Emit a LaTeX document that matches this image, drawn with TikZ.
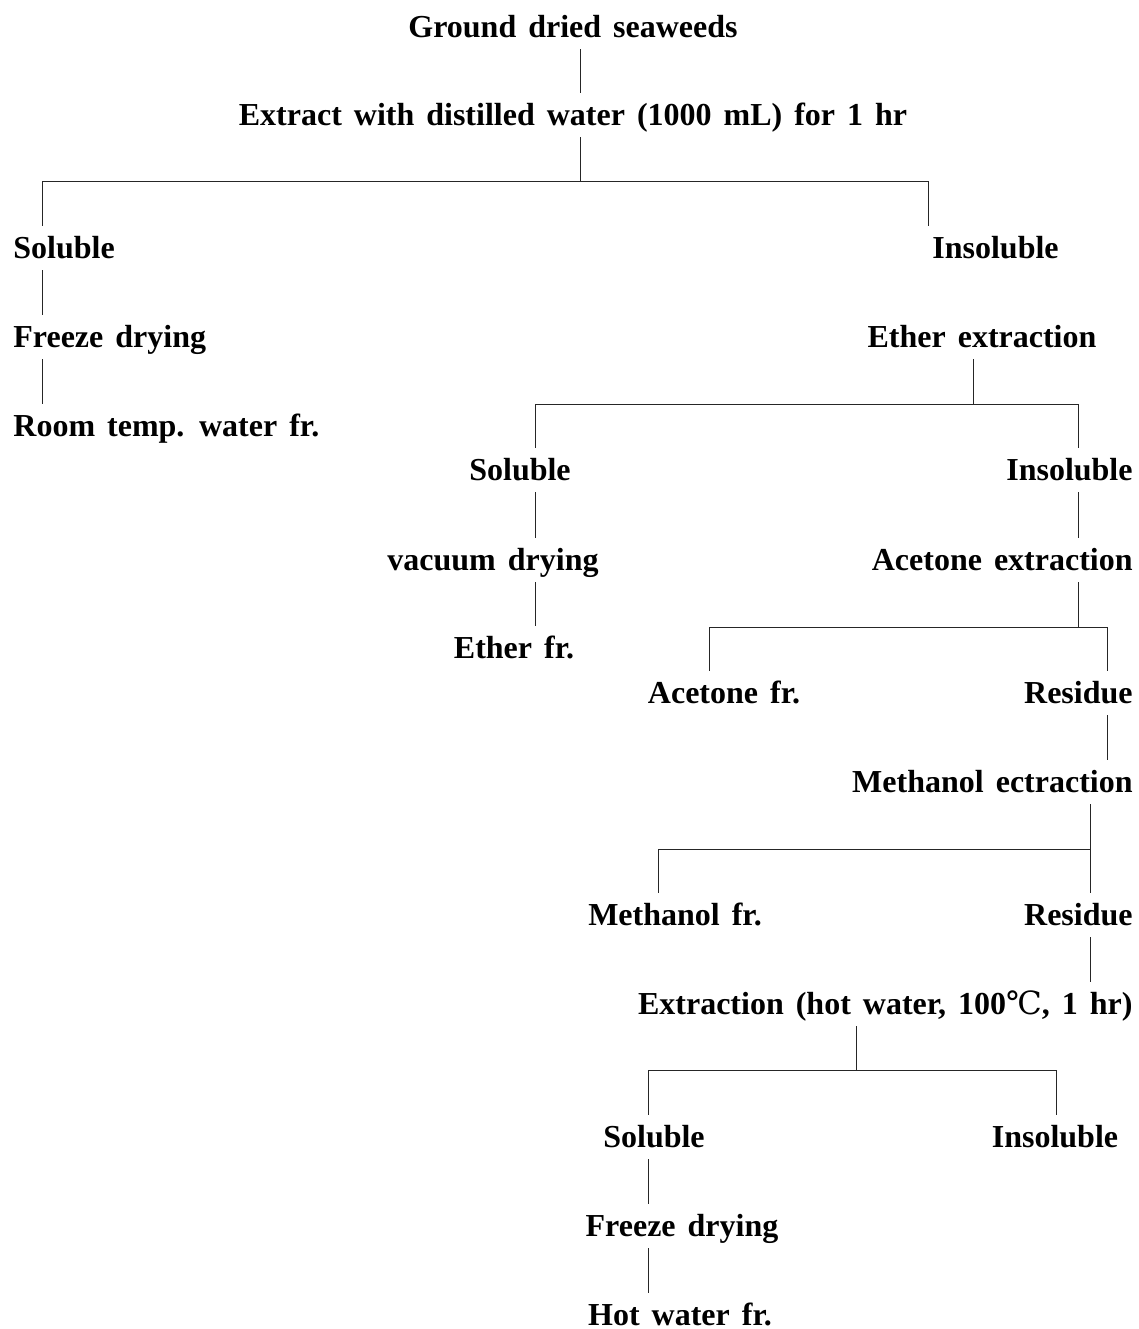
\documentclass[tikz,border=0pt]{standalone}
\usepackage{fontspec}
\newfontfamily\flowfont[WordSpace=1.5]{Liberation Serif Bold}
\newfontfamily\degfont{DejaVu Serif}
\usetikzlibrary{positioning,calc}

\begin{document}
\begin{tikzpicture}[x=0.5pt, y=-0.5pt,
		stage/.style={font=\fontsize{16pt}{19pt}\selectfont\flowfont, text height=10.5pt, text depth=0.5pt, inner xsep=0pt, inner ysep=5.5pt},
		link/.style={line width=0.5pt, draw=black!85}]
			\useasboundingbox (0,0) rectangle (1139,1329);
			\node [stage, anchor=base] (gds) at (573,37) {Ground dried seaweeds};
			\node [stage, anchor=base] (water) at (573,125) {Extract with distilled water (1000 mL) for 1 hr};
			\node [stage, anchor=base west] (sol1) at (13,258) {Soluble};
			\node [stage, anchor=base west] (frz1) at (13,347) {Freeze drying};
			\node [stage, anchor=base west] (room) at (13,436) {Room temp. water fr.};
			\node [stage, anchor=base west] (ins1) at (932,258) {Insoluble};
			\node [stage, anchor=base] (ether) at (982,347) {Ether extraction};
			\node [stage, anchor=base] (sol2) at (520,480) {Soluble};
			\node [stage, anchor=base east] (ins2) at (1133,480) {Insoluble};
			\node [stage, anchor=base] (vac) at (493,570) {vacuum drying};
			\node [stage, anchor=base east] (acet) at (1133,570) {Acetone extraction};
			\node [stage, anchor=base] (etherfr) at (514,658) {Ether fr.};
			\node [stage, anchor=base] (acetfr) at (724,703) {Acetone fr.};
			\node [stage, anchor=base east] (res1) at (1133,703) {Residue};
			\node [stage, anchor=base east] (meth) at (1133,792) {Methanol ectraction};
			\node [stage, anchor=base] (methfr) at (675,925) {Methanol fr.};
			\node [stage, anchor=base east] (res2) at (1133,925) {Residue};
			\node [stage, anchor=base east] (hot) at (1133,1014) {Extraction (hot water, 100{\degfont ℃}, 1 hr)};
			\node [stage, anchor=base] (sol3) at (654,1147) {Soluble};
			\node [stage, anchor=base] (ins3) at (1055,1147) {Insoluble};
			\node [stage, anchor=base] (frz3) at (682,1236) {Freeze drying};
			\node [stage, anchor=base] (hotfr) at (680,1325) {Hot water fr.};

			\coordinate (j1) at (580,181);
			\coordinate (j1l) at (42,181);
			\coordinate (j1r) at (928,181);
			\draw [link] (gds.south -| j1) -- (water.north -| j1);
			\draw [link] (water.south -| j1) -- (j1);
			\draw [link] (sol1.north -| j1l) -- (j1l) -- (j1r) -- (ins1.north -| j1r);
			\draw [link] (sol1.south -| j1l) -- (frz1.north -| j1l);
			\draw [link] (frz1.south -| j1l) -- (room.north -| j1l);

			\coordinate (j2) at (973,404);
			\coordinate (j2l) at (535,404);
			\coordinate (j2r) at (1078,404);
			\draw [link] (ether.south -| j2) -- (j2);
			\draw [link] (sol2.north -| j2l) -- (j2l) -- (j2r) -- (ins2.north -| j2r);
			\draw [link] (sol2.south -| j2l) -- (vac.north -| j2l);
			\draw [link] (vac.south -| j2l) -- (etherfr.north -| j2l);
			\draw [link] (ins2.south -| j2r) -- (acet.north -| j2r);

			\coordinate (j3) at (1078,627);
			\coordinate (j3l) at (709,627);
			\coordinate (j3r) at (1107,627);
			\draw [link] (acet.south -| j3) -- (j3);
			\draw [link] (acetfr.north -| j3l) -- (j3l) -- (j3r) -- (res1.north -| j3r);
			\draw [link] (res1.south -| j3r) -- (meth.north -| j3r);

			\coordinate (j4) at (1090,849);
			\coordinate (j4l) at (658,849);
			\draw [link] (meth.south -| j4) -- (j4);
			\draw [link] (methfr.north -| j4l) -- (j4l) -- (j4) -- (res2.north -| j4);
			\draw [link] (res2.south -| j4) -- (hot.north -| j4);

			\coordinate (j5) at (856,1070);
			\coordinate (j5l) at (648,1070);
			\coordinate (j5r) at (1056,1070);
			\draw [link] (hot.south -| j5) -- (j5);
			\draw [link] (sol3.north -| j5l) -- (j5l) -- (j5r) -- (ins3.north -| j5r);
			\draw [link] (sol3.south -| j5l) -- (frz3.north -| j5l);
			\draw [link] (frz3.south -| j5l) -- (hotfr.north -| j5l);
		\end{tikzpicture}
\end{document}
